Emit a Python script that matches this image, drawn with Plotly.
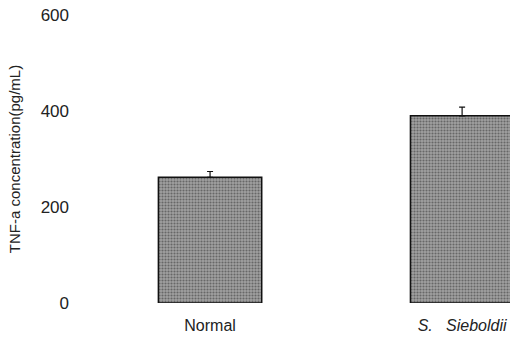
import plotly.graph_objects as go

categories = ["Normal", "S. Sieboldii"]
tick_labels = ["Normal", "<i>S.&nbsp;&nbsp;&nbsp;Sieboldii</i>"]
values = [262, 390]
errors = [12, 18]
y_ticks = [0, 200, 400, 600]

fig = go.Figure()
fig.add_trace(go.Bar(
    x=[0, 1],
    y=values,
    width=0.41,
    marker=dict(
        color="#909090",
        line=dict(color="#111111", width=1.5),
        pattern=dict(shape=".", fgcolor="#2e2e2e", bgcolor="#a0a0a0", size=3, solidity=0.4),
    ),
    error_y=dict(type="data", array=errors, symmetric=False, arrayminus=[0, 0],
                 color="#111111", thickness=1.2, width=3),
    showlegend=False,
    hoverinfo="skip",
))

fig.update_layout(
    width=510, height=338,
    margin=dict(l=80, r=0, t=15, b=35, autoexpand=False),
    paper_bgcolor="white", plot_bgcolor="white",
    font=dict(family="Liberation Sans, Arial, sans-serif", color="#222222", size=15),
)
fig.update_xaxes(
    tickmode="array", tickvals=[0, 1], ticktext=tick_labels,
    range=[-0.516, 1.19], showgrid=False, showline=False, zeroline=False,
    ticks="", tickfont=dict(size=16), automargin=False, ticklabeloverflow="allow",
    ticklabelstandoff=11,
)
fig.update_yaxes(
    range=[0, 600], tickvals=y_ticks, showgrid=False, showline=False, zeroline=False,
    ticks="", ticklabelstandoff=10, tickfont=dict(size=17), automargin=False,
    title=dict(text="TNF-a concentration(pg/mL)", font=dict(size=15), standoff=16),
)

fig.write_html("out.html", config={"displayModeBar": False},
               post_script="document.body.style.margin='0';")
